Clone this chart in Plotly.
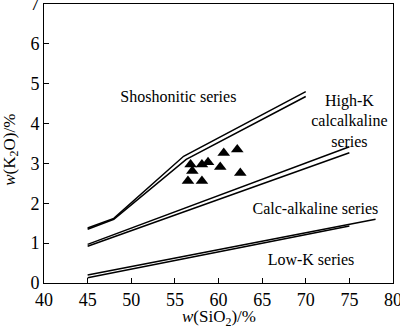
import plotly.graph_objects as go

# Boundary lines (SiO2, K2O)
sho_a_x = [45, 48, 56, 70]
sho_a_y = [1.38, 1.62, 3.18, 4.80]
sho_b_x = [45, 48, 56.3, 70]
sho_b_y = [1.35, 1.60, 3.10, 4.68]

hk_a_x = [45, 75]
hk_a_y = [0.97, 3.42]
hk_b_x = [45, 75]
hk_b_y = [0.92, 3.27]

lk_a_x = [45, 78]
lk_a_y = [0.20, 1.60]
lk_b_x = [45, 75]
lk_b_y = [0.13, 1.43]

# Samples
samp_x = [56.8, 57.0, 58.1, 58.8, 60.6, 62.15, 60.2, 62.5, 56.5, 58.1]
samp_y = [2.97, 2.81, 2.97, 3.03, 3.26, 3.35, 2.91, 2.76, 2.56, 2.56]

# Labels
lab_text = ["Shoshonitic series", "High-K<br>calcalkaline<br>series",
            "Calc-alkaline series", "Low-K series"]
lab_x = [55.4, 75.0, 71.1, 70.6]
lab_y = [4.65, 4.03, 1.83, 0.55]

x_title = "<i>w</i>(SiO<sub>2</sub>)/%"
y_title = "<i>w</i>(K<sub>2</sub>O)/%"

FONT = "Liberation Serif, Times New Roman, serif"

fig = go.Figure()
for xs, ys in [(sho_a_x, sho_a_y), (sho_b_x, sho_b_y), (hk_a_x, hk_a_y),
               (hk_b_x, hk_b_y), (lk_a_x, lk_a_y), (lk_b_x, lk_b_y)]:
    fig.add_trace(go.Scatter(x=xs, y=ys, mode="lines",
                             line=dict(color="black", width=1.5),
                             showlegend=False, hoverinfo="skip"))

fig.add_trace(go.Scatter(x=samp_x, y=samp_y, mode="markers",
                         marker=dict(symbol="triangle-up", size=11, color="black"),
                         showlegend=False))

fig.add_trace(go.Scatter(x=lab_x, y=lab_y, mode="text", text=lab_text,
                         textfont=dict(family=FONT, size=16, color="black"),
                         showlegend=False, hoverinfo="skip", cliponaxis=False))

axis_common = dict(showgrid=False, zeroline=False, showline=True, linecolor="black",
                   linewidth=1, mirror=True, ticks="inside", ticklen=5,
                   tickcolor="black", ticklabeloverflow="allow", automargin=False,
                   tickfont=dict(family=FONT, size=18, color="black"))

fig.update_xaxes(range=[40, 80], tickvals=[40, 45, 50, 55, 60, 65, 70, 75, 80],
                 **axis_common)
fig.update_yaxes(range=[0, 7], tickvals=[0, 1, 2, 3, 4, 5, 6, 7],
                 **axis_common)

fig.add_annotation(text=x_title, xref="paper", yref="paper", x=0.501, y=-0.127,
                   xanchor="center", yanchor="middle", showarrow=False,
                   font=dict(family=FONT, size=17, color="black"))
fig.add_annotation(text=y_title, xref="paper", yref="paper", x=-0.095, y=0.477,
                   xanchor="center", yanchor="middle", showarrow=False, textangle=-90,
                   font=dict(family=FONT, size=17, color="black"))

fig.update_layout(width=400, height=328, margin=dict(l=44, r=7, t=4, b=45),
                  plot_bgcolor="white", paper_bgcolor="white")

fig.write_html("out.html")
